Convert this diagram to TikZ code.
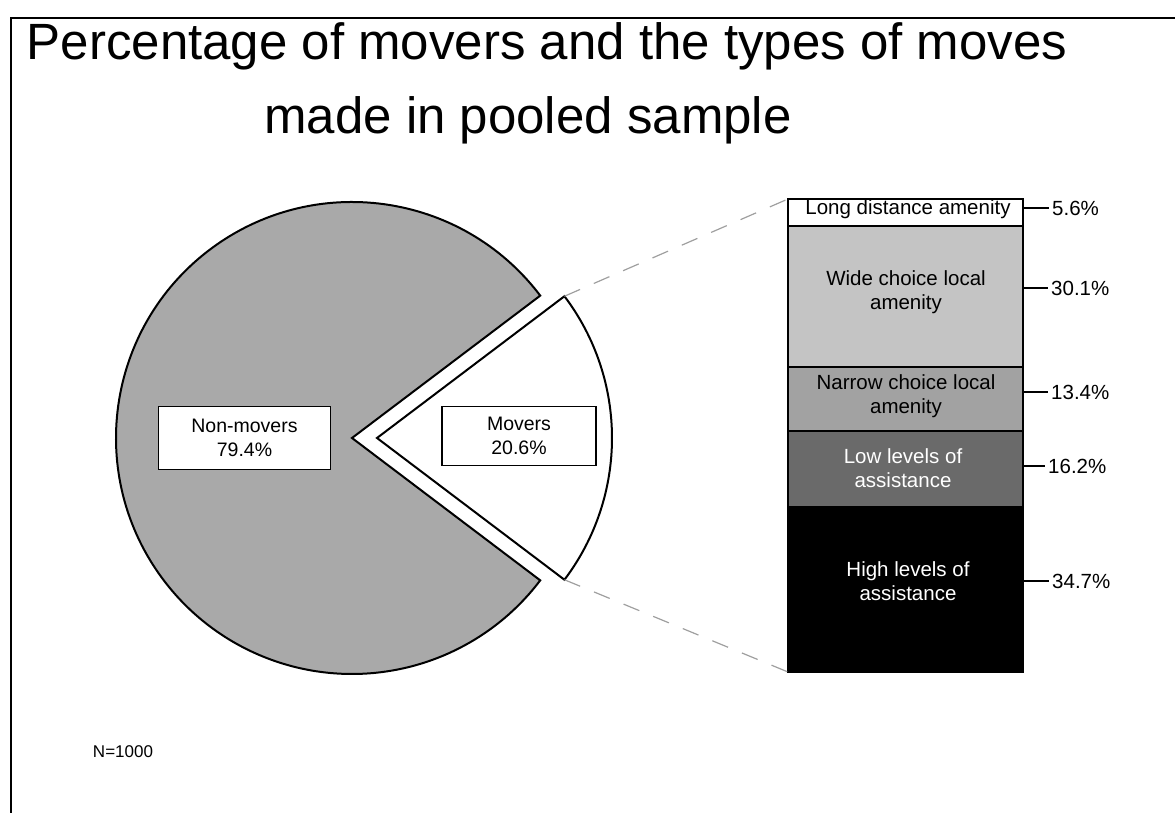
\documentclass[tikz,border=0pt]{standalone}
\usepackage{fontspec}
\setmainfont{Liberation Sans}
\definecolor{piegrey}{HTML}{A9A9A9}
\definecolor{widegrey}{HTML}{C4C4C4}
\definecolor{narrowgrey}{HTML}{A2A2A2}
\definecolor{lowgrey}{HTML}{6A6A6A}
\tikzset{
  outline/.style={draw=black, line width=2pt, line join=miter},
  labelbox/.style={draw=black, line width=1.6pt, fill=white, inner sep=0pt,
    align=center, font=\fontsize{19.5}{23.5}\selectfont},
  segment/.style={outline, inner sep=0pt, outer sep=0pt, anchor=north west,
    minimum width=235pt},
  segtext/.style={align=center, font=\fontsize{20.5}{24}\selectfont},
  pct/.style={anchor=west, inner sep=0pt, font=\fontsize{20.5}{24}\selectfont},
  tick/.style={draw=black, line width=1.3pt},
  guide/.style={draw=gray!75, line width=1.2pt, dash pattern=on 17pt off 15pt},
}
\begin{document}
\begin{tikzpicture}[x=1pt, y=1pt]
\useasboundingbox (0,0) rectangle (1175,813);
% frame along the top and left
\draw[line width=2pt] (11,0) -- (11,795) -- (1175,795);

% title
\node[anchor=base, font=\fontsize{51}{57}\selectfont] (title1) at (547,753)
  {Percentage of movers and the types of moves};
\node[anchor=base, font=\fontsize{51}{57}\selectfont] (title2) at (528,679)
  {made in pooled sample};

% pie: non-movers
\coordinate (nmc) at (352,375);
\filldraw[outline, fill=piegrey] (nmc) -- ++(37.1:236)
  arc[start angle=37.1, end angle=322.9, radius=236] -- cycle;
% pie: exploded movers slice
\coordinate (mvc) at (377,375);
\filldraw[outline, fill=white] (mvc) -- ++(-37.1:235) coordinate (mvlow)
  arc[start angle=-37.1, end angle=37.1, radius=235] coordinate (mvtop) -- cycle;

\node[labelbox, minimum width=172pt, minimum height=63pt] (nonmovers) at (244.5,375)
  {Non-movers\\79.4\%};
\node[labelbox, minimum width=154pt, minimum height=59pt] (movers) at (519,377)
  {Movers\\20.6\%};

% stacked bar of move types
\node[segment, fill=white, minimum height=27pt] (s1) at (788,614) {};
\node[segment, fill=widegrey, minimum height=141pt] (s2) at (788,587) {};
\node[segment, fill=narrowgrey, minimum height=64pt] (s3) at (788,446) {};
\node[segment, fill=lowgrey, minimum height=76pt] (s4) at (788,382) {};
\node[segment, fill=black, minimum height=165pt] (s5) at (788,306) {};

\node[segtext] (t1) at (908,604) {Long distance amenity};
\node[segtext] (t2) at (906,520.5) {Wide choice local\\amenity};
\node[segtext] (t3) at (906,417) {Narrow choice local\\amenity};
\node[segtext, text=white] (t4) at (903,345) {Low levels of\\assistance};
\node[segtext, text=white] (t5) at (908,232) {High levels of\\assistance};

% percentage labels with their ticks
\node[pct] (p1) at (1052,605) {5.6\%};
\node[pct] (p2) at (1051,525) {30.1\%};
\node[pct] (p3) at (1051,421) {13.4\%};
\node[pct] (p4) at (1048,347) {16.2\%};
\node[pct] (p5) at (1052,232) {34.7\%};
\foreach \i in {1,...,5} {
  \draw[tick] (s\i.east |- p\i.west) -- ([xshift=-3pt]p\i.west);
}

% guide lines from the slice to the bar
\draw[guide] (mvtop) -- (s1.north west);
\draw[guide] (mvlow) -- (s5.south west);

\node[font=\fontsize{17}{20}\selectfont] (n) at (123,61) {N=1000};
\end{tikzpicture}
\end{document}
